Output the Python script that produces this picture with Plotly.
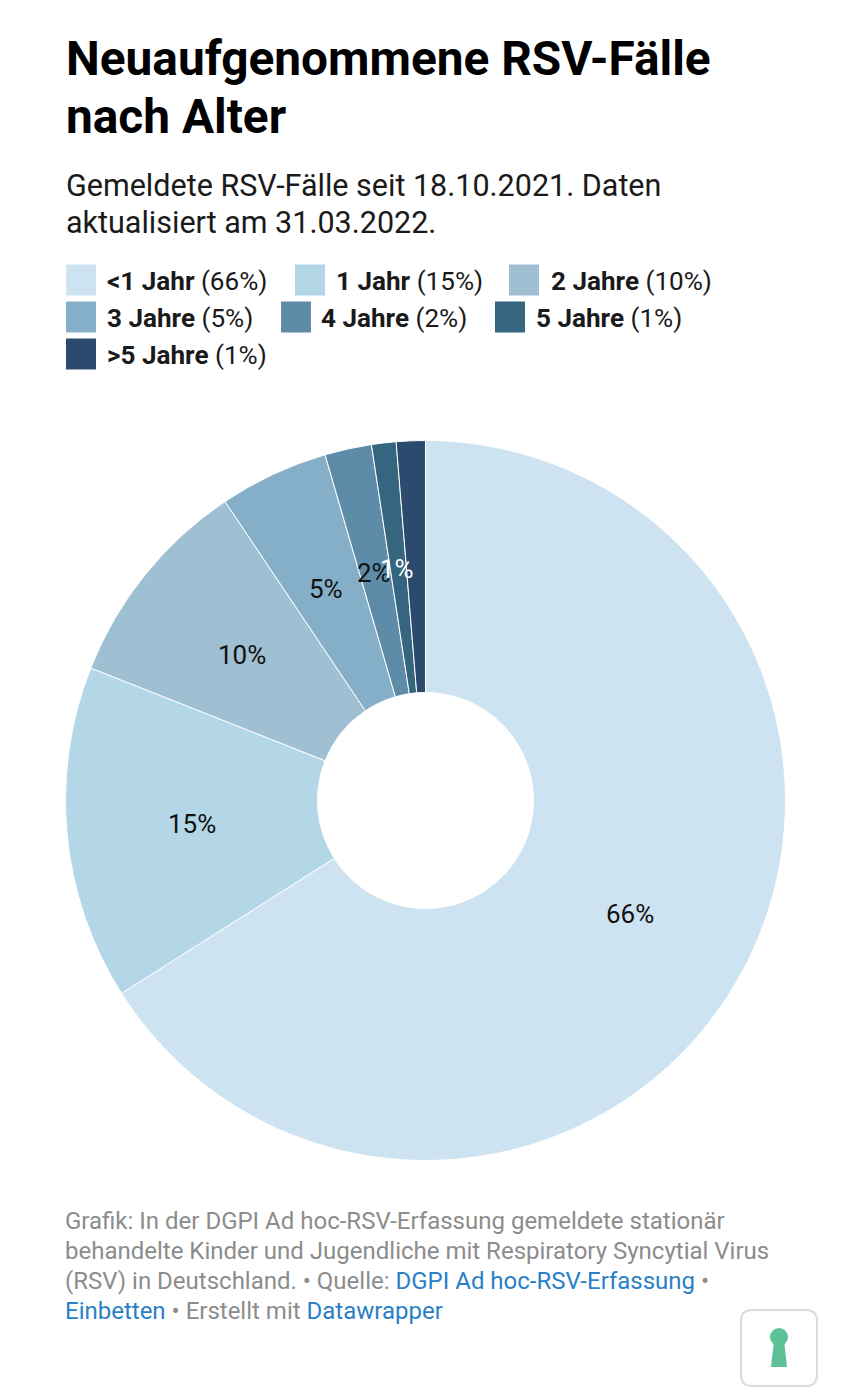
import math
import plotly.graph_objects as go

W, H = 851, 1400

# Case shares per age group, in drawing order (clockwise from 12 o'clock)
age_groups = ["<1 Jahr", "1 Jahr", "2 Jahre", "3 Jahre", "4 Jahre", "5 Jahre", ">5 Jahre"]
shares = [66.0, 15.0, 9.6, 4.9, 2.1, 1.1, 1.3]
slice_colors = ["#cde3f1", "#b4d7e8", "#9fbfd3", "#85afc9", "#5e8ba8", "#35657f", "#2c4a6e"]
label_colors = ["#111111", "#111111", "#111111", "#111111", "#111111", "#ffffff", None]

title_lines = ["Neuaufgenommene RSV-Fälle", "nach Alter"]
subtitle_lines = ["Gemeldete RSV-Fälle seit 18.10.2021. Daten", "aktualisiert am 31.03.2022."]
GRAY = "#8c8c8c"
BLUE = "#2a7fc9"
footer_lines = [
    "Grafik: In der DGPI Ad hoc-RSV-Erfassung gemeldete stationär",
    "behandelte Kinder und Jugendliche mit Respiratory Syncytial Virus",
    f"(RSV) in Deutschland. • Quelle: <span style='color:{BLUE}'>DGPI Ad hoc-RSV-Erfassung</span> •",
    f"<span style='color:{BLUE}'>Einbetten</span> • Erstellt mit <span style='color:{BLUE}'>Datawrapper</span>",
]

# Pie geometry in page pixels
CX, CY, R_OUT, R_IN = 425.5, 800.5, 360, 108


def px(x):
    return x / W


def py(y):
    return 1 - y / H


annotations = []
shapes = []


def text(x, y, s, size, color="#111111", anchor="left", family="Roboto"):
    annotations.append(dict(
        x=px(x), y=py(y), xref="paper", yref="paper", text=s, showarrow=False,
        xanchor=anchor, yanchor="middle", align=anchor,
        font=dict(family=family, size=size, color=color),
    ))


for line, y in zip(title_lines, [59, 117]):
    text(64, y, f"<b>{line}</b>", 47.8, "#000000")

for line, y in zip(subtitle_lines, [185.5, 222.5]):
    text(63.5, y, line, 30.5, "#1a1a1a")

# Legend rows: swatch x and row y for every entry
legend_x = [66, 295, 509, 66, 281, 495, 66]
legend_y = [280, 280, 280, 317, 317, 317, 354]
legend_gap = [39, 39, 40, 39, 38, 39, 39]
for name, share, color, x, y, gap in zip(age_groups, shares, slice_colors, legend_x, legend_y, legend_gap):
    shapes.append(dict(type="rect", xref="paper", yref="paper", line_width=0, fillcolor=color,
                       x0=px(x), x1=px(x + 30), y0=py(y - 15.5), y1=py(y + 15.5)))
    text(x + gap, y + 1, f"<b>{name}</b> ({round(share)}%)", 26.1, "#1a1a1a")

# Value labels sit halfway across the ring at each slice's mid angle
running = 0.0
total = sum(shares)
mid_r = (R_OUT + R_IN) / 2
for share, color in zip(shares, label_colors):
    angle = 2 * math.pi * (running + share / 2) / total
    running += share
    if color is None:
        continue
    text(CX + mid_r * math.sin(angle) - 1, CY - mid_r * math.cos(angle) + 1, f"{round(share)}%", 26, color, "center")

for line, y in zip(footer_lines, [1221, 1251, 1281, 1311]):
    text(63.2, y, line, 24, GRAY)

# Keyhole badge in the lower right corner
bx0, by0, bx1, by1, br = 741, 1310, 817, 1386, 11
shapes.append(dict(
    type="path", xref="paper", yref="paper", line=dict(color="#dcdcdc", width=2), fillcolor="#ffffff",
    path=(f"M {px(bx0 + br)} {py(by0)} L {px(bx1 - br)} {py(by0)} Q {px(bx1)} {py(by0)} {px(bx1)} {py(by0 + br)} "
          f"L {px(bx1)} {py(by1 - br)} Q {px(bx1)} {py(by1)} {px(bx1 - br)} {py(by1)} "
          f"L {px(bx0 + br)} {py(by1)} Q {px(bx0)} {py(by1)} {px(bx0)} {py(by1 - br)} "
          f"L {px(bx0)} {py(by0 + br)} Q {px(bx0)} {py(by0)} {px(bx0 + br)} {py(by0)} Z"),
))
shapes.append(dict(type="circle", xref="paper", yref="paper", line_width=0, fillcolor="#5cc194",
                   x0=px(770), x1=px(788), y0=py(1328), y1=py(1346)))
shapes.append(dict(type="path", xref="paper", yref="paper", line_width=0, fillcolor="#5cc194",
                   path=(f"M {px(774)} {py(1340)} L {px(784)} {py(1340)} L {px(787)} {py(1367)} "
                         f"L {px(771)} {py(1367)} Z")))

fig = go.Figure(go.Pie(
    labels=age_groups,
    values=shares,
    sort=False,
    direction="clockwise",
    rotation=0,
    hole=R_IN / R_OUT,
    textinfo="none",
    showlegend=False,
    marker=dict(colors=slice_colors, line=dict(color="#ffffff", width=1)),
    domain=dict(x=[px(CX - R_OUT), px(CX + R_OUT)], y=[py(CY + R_OUT), py(CY - R_OUT)]),
))

fig.update_layout(
    width=W, height=H,
    margin=dict(l=0, r=0, t=0, b=0),
    paper_bgcolor="#ffffff",
    font=dict(family="Roboto"),
    annotations=annotations,
    shapes=shapes,
)

fig.write_html("out.html")
